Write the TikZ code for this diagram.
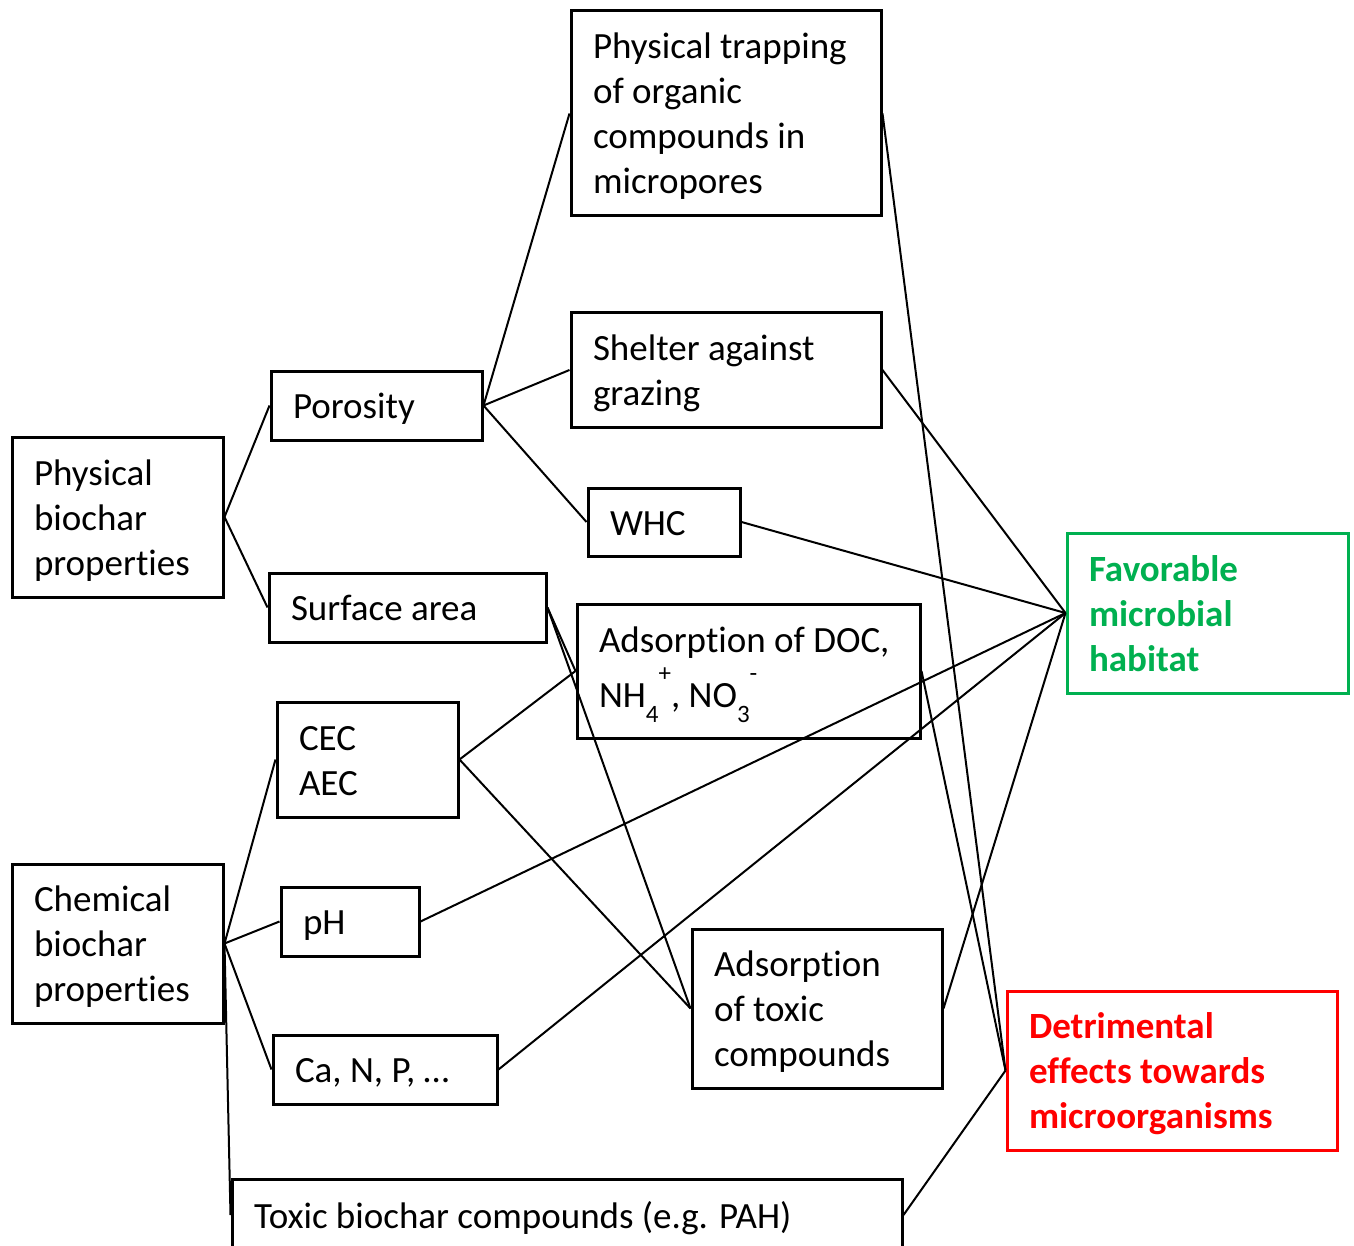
\documentclass[tikz,border=0pt]{standalone}
\usepackage{fontspec}
\setmainfont{Carlito}[Ligatures={NoCommon}]
\definecolor{favgreen}{RGB}{0,176,80}
\definecolor{detred}{RGB}{255,0,0}
\def\vsh{-4pt}
\newcommand\mybox[7]{%
  \node[#1, minimum width=#5-#3, minimum height=#6-#4] (#2) at ({(#3+#5)/2},{-(#4+#6)/2})
  {\makebox[\dimexpr #5pt-#3pt-44pt\relax][l]{\raisebox{\vsh}[\height][\depth]{\begin{tabular}{@{}l@{}}#7\end{tabular}}}};%
}
\newcommand\subsc[1]{\smash{\raisebox{-15pt}{\fontsize{25}{25}\selectfont #1}}}
\newcommand\supsc[1]{\smash{\raisebox{26pt}{\fontsize{25}{25}\selectfont #1}}}
\begin{document}
\begin{tikzpicture}[x=1pt,y=1pt,
  bx/.style={draw=black, line width=3pt, rectangle, inner xsep=22pt, inner ysep=0pt,
    font=\fontsize{37}{45}\selectfont},
  favbx/.style={bx, draw=favgreen, text=favgreen, font=\fontsize{37}{45}\selectfont\bfseries},
  detbx/.style={bx, draw=detred, text=detred, font=\fontsize{37}{45}\selectfont\bfseries},
  link/.style={draw=black, line width=2pt}]
\clip (0,0) rectangle (1354,-1246);
\fill[white] (0,0) rectangle (1354,-1246);

\mybox{bx}{phys}{12}{437}{223}{597}{Physical\\biochar\\properties}
\mybox{bx}{poro}{271}{371}{482}{440}{Porosity}
\mybox{bx}{surf}{269}{573}{546}{642}{Surface area}
\mybox{bx}{trap}{571}{11}{881}{216}{Physical trapping\\of organic\\compounds in\\micropores}
\mybox{bx}{shel}{571}{313}{881}{427}{Shelter against\\grazing}
\mybox{bx}{whc}{588}{488}{740}{556}{WHC}
{\def\vsh{0pt}\mybox{bx}{doc}{577}{604}{920}{738}{Adsorption of DOC,\\[10pt]NH\subsc{4}\supsc{+}, NO\subsc{3}\supsc{-}}}
\mybox{bx}{cec}{277}{702}{458}{817}{CEC\\AEC}
\mybox{bx}{chem}{12}{864}{223}{1023}{Chemical\\biochar\\properties}
\mybox{bx}{ph}{281}{887}{419}{956}{pH}
\mybox{bx}{ca}{273}{1035}{497}{1104}{Ca, N, P, \dots}
\mybox{bx}{tox}{692}{929}{942}{1088}{Adsorption\\of toxic\\compounds}
\mybox{bx}{pah}{232}{1179}{902}{1251}{Toxic biochar compounds (e.g. PAH)}
\mybox{favbx}{fav}{1067}{533}{1348}{693}{Favorable\\microbial\\habitat}
\mybox{detbx}{det}{1007}{991}{1337}{1150}{Detrimental\\effects towards\\microorganisms}

\draw[link] (phys.east) -- (poro.west);
\draw[link] (phys.east) -- (surf.west);
\draw[link] (poro.east) -- (trap.west);
\draw[link] (poro.east) -- (shel.west);
\draw[link] (poro.east) -- (whc.west);
\draw[link] (surf.east) -- (doc.west);
\draw[link] (surf.east) -- (tox.west);
\draw[link] (cec.east) -- (doc.west);
\draw[link] (cec.east) -- (tox.west);
\draw[link] (chem.east) -- (cec.west);
\draw[link] (chem.east) -- (ph.west);
\draw[link] (chem.east) -- (ca.west);
\draw[link] (chem.east) -- (pah.west);
\draw[link] (ph.east) -- (fav.west);
\draw[link] (ca.east) -- (fav.west);
\draw[link] (whc.east) -- (fav.west);
\draw[link] (shel.east) -- (fav.west);
\draw[link] (tox.east) -- (fav.west);
\draw[link] (trap.east) -- (det.west);
\draw[link] (doc.east) -- (det.west);
\draw[link] (pah.east) -- (det.west);
\end{tikzpicture}
\end{document}
